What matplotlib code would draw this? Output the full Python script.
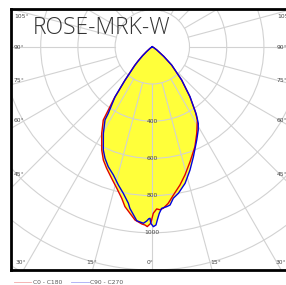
import numpy as np
import matplotlib
matplotlib.use("Agg")
import matplotlib.pyplot as plt
from matplotlib.patches import Circle

# ---- data (signed gamma angle in degrees: negative = left half, candela) ----
c0_angles = [-90, -60, -55, -50, -47.5, -45, -43, -39, -36.5, -33.8, -30.3, -26.1, -23.4,
             -20.6, -17.2, -14.1, -11.4, -9.7, -5.7, -3.4, -2.35, -1.6,
             -0.5, 0.34, 1.55, 2.7, 3.9, 5.8, 8.1, 11.3, 14.3, 18.2, 23.1, 27.2, 31.6,
             33.5, 37, 41.5, 46.5, 50, 55, 60, 90]
c0_values = [0, 5, 15, 42, 72, 110, 145, 240, 345, 474, 539, 618, 663,
             698, 740, 784, 831, 872, 936, 954, 959, 967,
             949, 895, 872, 877, 870, 846, 805, 758, 711, 650, 584, 523, 462,
             420, 335, 238, 143, 82, 30, 10, 0]

c90_angles = [-90, -60, -55, -50, -47.5, -45, -43.4, -39.3, -36.7, -33.5, -32.9, -29.5, -25.4,
              -23, -20.15, -16.9, -13.8, -11.2, -8.7, -7.9, -5.1, -3.45, -2.9, -1.84,
              -1.2, -0.75, -0.5, 0.35, 1.19, 1.65, 2.4, 3.33, 5.15, 6.4, 7.9, 10.1, 13.5,
              17, 20.5, 25.5, 28.9, 31, 33, 37.1, 41.5, 46.8, 50, 55, 60, 90]
c90_values = [0, 5, 15, 40, 70, 105, 135, 231, 335, 429, 468, 534, 614,
              651, 687, 720, 765, 803, 851, 877, 939, 947, 950, 937,
              925, 922, 949, 967, 958, 932, 896, 870, 863, 856, 822, 800, 755,
              693, 631, 555, 511, 480, 435, 336, 238, 143, 80, 30, 10, 0]

ring_values = [200, 400, 600, 800, 1000, 1200, 1400]
ring_labels = ["400", "600", "800", "1000"]
ray_angles = list(range(-180, 181, 15))
side_labels = ["105°", "90°", "75°", "60°", "45°"]
bottom_labels = ["30°", "15°", "0°", "15°", "30°"]
legend_labels = ["C0 - C180", "C90 - C270"]
title = "ROSE-MRK-W"

# ---- figure ----
W, H = 286, 285
fig = plt.figure(figsize=(W / 100, H / 100), dpi=100)
cx, cy = 152.3, 46.8  # pixel position of polar origin
scale = 0.186         # pixel per cd
left_px, right_px, top_px, bot_px = 11, 293, 9, 270
ax = fig.add_axes([left_px / W, (H - bot_px) / H, (right_px - left_px) / W, (bot_px - top_px) / H])
ax.set_xlim((left_px - cx) / scale, (right_px - cx) / scale)
ax.set_ylim(-(bot_px - cy) / scale, (cy - top_px) / scale)
ax.set_xticks([]); ax.set_yticks([])
for s in ["top", "bottom", "left"]:
    ax.spines[s].set_linewidth(2.0)
    ax.spines[s].set_color("black")
ax.spines["right"].set_visible(False)

def to_xy(ang, val):
    a = np.radians(np.asarray(ang, float))
    v = np.asarray(val, float)
    return v * np.sin(a), -v * np.cos(a)

yellow = "#ffff3a"
x0, y0 = to_xy(c0_angles, c0_values)
x9, y9 = to_xy(c90_angles, c90_values)
ax.fill(x0, y0, color=yellow, lw=0, zorder=1)
ax.fill(x9, y9, color=yellow, lw=0, zorder=1)

grid_c = "#d2d2d2"
for r in ring_values:
    ax.add_patch(Circle((0, 0), r, fill=False, ec=grid_c, lw=0.8, zorder=2))
for a in ray_angles:
    xa, ya = to_xy([a, a], [200, 3000])
    ax.plot(xa, ya, color=grid_c, lw=0.8, zorder=2)

ax.plot(x0, y0, color="#e00000", lw=1.0, zorder=4)
ax.plot(x9, y9, color="#0000e0", lw=1.0, zorder=4)

# ring labels
for lab in ring_labels:
    ax.text(0, -float(lab), lab, ha="center", va="center", fontsize=4.3, color="#444444", zorder=5)

# angle labels (figure pixel coords)
def ftext(x, y, s, **kw):
    fig.text(x / W, 1 - y / H, s, fontsize=4.3, color="#444444", va="center", **kw)

side_y = [16, 47, 80, 121, 175]
for s, yy in zip(side_labels, side_y):
    ftext(14, yy, s, ha="left")
    ftext(277, yy, s, ha="left")
bottom_x = [16, 86, 147, 210, 276]
for s, xx in zip(bottom_labels, bottom_x):
    ftext(xx, 262, s, ha="left")

fig.text(33 / W, 1 - 33.5 / H, title, fontsize=16.5, color="#333333", ha="left", va="baseline",
         family="Open Sans", fontweight="light")

# legend
fig.add_artist(plt.Line2D([14 / W, 31 / W], [1 - 282 / H] * 2, color="#f2a8a8", lw=0.6))
fig.text(33 / W, 1 - 282 / H, legend_labels[0], fontsize=4.3, color="#555555", va="center")
fig.add_artist(plt.Line2D([71 / W, 89 / W], [1 - 282 / H] * 2, color="#a8a8f2", lw=0.6))
fig.text(90 / W, 1 - 282 / H, legend_labels[1], fontsize=4.3, color="#555555", va="center")

fig.savefig("out.png", dpi=100)
